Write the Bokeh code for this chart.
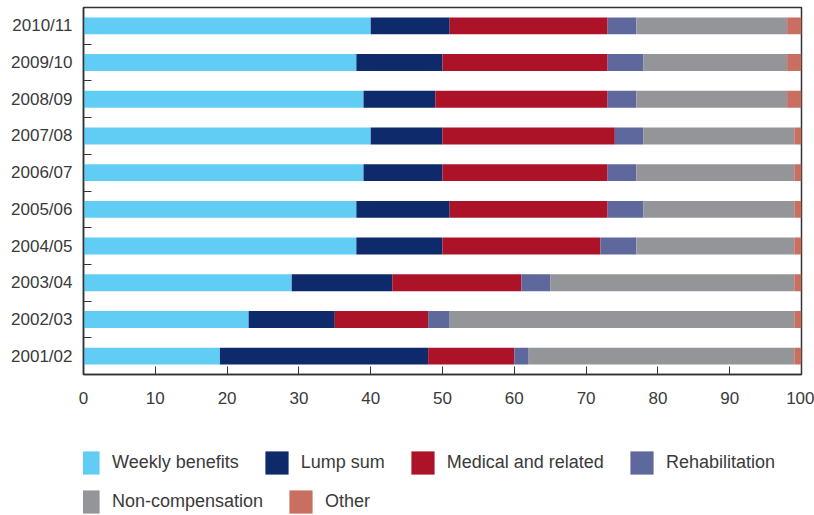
from bokeh.plotting import figure
from bokeh.layouts import column
from bokeh.models import ColumnDataSource, FixedTicker, Legend, LegendItem, Range1d
from bokeh.embed import file_html
from bokeh.resources import INLINE

# ---- data (bottom to top) ----
years = ["2001/02", "2002/03", "2003/04", "2004/05", "2005/06",
         "2006/07", "2007/08", "2008/09", "2009/10", "2010/11"]
weekly = [19, 23, 29, 38, 38, 39, 40, 39, 38, 40]
lump = [29, 12, 14, 12, 13, 11, 10, 10, 12, 11]
medical = [12, 13, 18, 22, 22, 23, 24, 24, 23, 22]
rehab = [2, 3, 4, 5, 5, 4, 4, 4, 5, 4]
noncomp = [37, 48, 34, 22, 21, 22, 21, 21, 20, 21]
other = [1, 1, 1, 1, 1, 1, 1, 2, 2, 2]

series_names = ["Weekly benefits", "Lump sum", "Medical and related",
                "Rehabilitation", "Non-compensation", "Other"]
series_keys = ["weekly", "lump", "medical", "rehab", "noncomp", "other"]
colors = ["#62CDF4", "#0F2A6B", "#AD1328", "#5E689C", "#949599", "#C86F62"]
x_ticks = [0, 10, 20, 30, 40, 50, 60, 70, 80, 90, 100]

pos = list(range(len(years)))
source = ColumnDataSource(dict(y=pos, weekly=weekly, lump=lump, medical=medical,
                               rehab=rehab, noncomp=noncomp, other=other))

FONT = "Liberation Sans"
TXT = "#3a3a3a"

# ---------------- main chart ----------------
p = figure(width=814, height=430, output_backend="svg", toolbar_location=None,
           x_range=Range1d(0, 100), y_range=Range1d(-0.5, len(years) - 0.5),
           min_border_left=83, min_border_right=13, min_border_top=7,
           min_border_bottom=56)

p.hbar_stack(series_keys, y="y", height=0.46, color=colors,
             line_color=None, source=source)

p.xgrid.visible = False
p.ygrid.visible = False
p.outline_line_color = "#333333"
p.outline_line_width = 1.5
p.background_fill_color = "white"
p.border_fill_color = "white"

xa = p.xaxis[0]
xa.ticker = FixedTicker(ticks=x_ticks)
xa.major_tick_in = 8
xa.major_tick_out = 0
xa.minor_tick_line_color = None
xa.axis_line_color = "#333333"
xa.axis_line_width = 1.5
xa.major_tick_line_color = "#333333"
xa.major_label_text_font = FONT
xa.major_label_text_font_size = "17px"
xa.major_label_text_color = TXT
xa.major_label_standoff = 17

ya = p.yaxis[0]
ya.ticker = FixedTicker(ticks=pos, minor_ticks=[i + 0.5 for i in pos[:-1]])
ya.major_label_overrides = {i: years[i] for i in pos}
ya.major_tick_in = 0
ya.major_tick_out = 0
ya.minor_tick_in = 8
ya.minor_tick_out = 0
ya.minor_tick_line_color = "#333333"
ya.axis_line_color = "#333333"
ya.axis_line_width = 1.5
ya.major_label_text_font = FONT
ya.major_label_text_font_size = "17px"
ya.major_label_text_color = TXT
ya.major_label_standoff = 11

# ---------------- legend strip ----------------
p2 = figure(width=814, height=85, output_backend="svg", toolbar_location=None,
            x_range=Range1d(0, 100), y_range=Range1d(-0.5, len(years) - 0.5),
            x_axis_type=None, y_axis_type=None,
            min_border_left=0, min_border_right=0, min_border_top=0,
            min_border_bottom=0)
p2.xgrid.visible = False
p2.ygrid.visible = False
p2.outline_line_color = None
p2.background_fill_color = "white"
p2.border_fill_color = "white"

leg_r = p2.hbar_stack(series_keys, y="y", height=0.46, color=colors,
                      line_color=None, source=source)
for r in leg_r:
    r.visible = False


def make_legend(idx, loc):
    items = [LegendItem(label=series_names[i], renderers=[leg_r[i]]) for i in idx]
    return Legend(items=items, orientation="horizontal", location=loc,
                  border_line_color=None, background_fill_alpha=0,
                  padding=0, margin=0, spacing=23, label_standoff=10,
                  glyph_width=29, glyph_height=29, label_height=29,
                  label_text_font=FONT, label_text_font_size="18px",
                  label_text_color=TXT)


p2.add_layout(make_legend([0, 1, 2, 3], (-10, 38)), "center")
p2.add_layout(make_legend([4, 5], (-10, -1)), "center")

layout = column(p, p2, spacing=0)
open("out.html", "w").write(file_html(layout, INLINE))
